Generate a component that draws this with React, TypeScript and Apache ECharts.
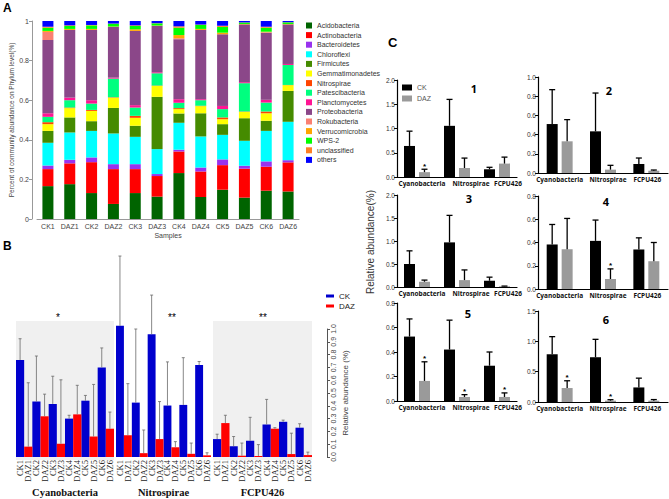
import React, { useEffect, useRef } from 'react';
import * as echarts from 'echarts';

// ---------- Panel A : phylum composition ----------
const samples = ['CK1', 'DAZ1', 'CK2', 'DAZ2', 'CK3', 'DAZ3', 'CK4', 'DAZ4', 'CK5', 'DAZ5', 'CK6', 'DAZ6'];
const phyla = ['Acidobacteria', 'Actinobacteria', 'Bacteroidetes', 'Chloroflexi', 'Firmicutes', 'Gemmatimonadetes', 'Nitrospirae', 'Patescibacteria', 'Planctomycetes', 'Proteobacteria', 'Rokubacteria', 'Verrucomicrobia', 'WPS-2', 'unclassified', 'others'];
const acidobacteria = [0.166, 0.176, 0.131, 0.076, 0.131, 0.113, 0.232, 0.111, 0.148, 0.108, 0.143, 0.139];
const actinobacteria = [0.086, 0.105, 0.156, 0.176, 0.121, 0.104, 0.109, 0.129, 0.124, 0.146, 0.121, 0.147];
const bacteroidetes = [0.018, 0.018, 0.024, 0.025, 0.025, 0.010, 0.009, 0.020, 0.029, 0.015, 0.027, 0.011];
const chloroflexi = [0.115, 0.138, 0.134, 0.155, 0.138, 0.126, 0.136, 0.157, 0.124, 0.126, 0.154, 0.194];
const firmicutes = [0.060, 0.076, 0.049, 0.129, 0.056, 0.264, 0.047, 0.117, 0.054, 0.114, 0.051, 0.156];
const gemmatimonadetes = [0.034, 0.047, 0.052, 0.052, 0.040, 0.055, 0.022, 0.036, 0.025, 0.032, 0.038, 0.029];
const nitrospirae = [0.010, 0.003, 0.005, 0.002, 0.010, 0.002, 0.005, 0.002, 0.009, 0.002, 0.009, 0.001];
const patescibacteria = [0.027, 0.037, 0.032, 0.094, 0.042, 0.062, 0.027, 0.028, 0.042, 0.143, 0.045, 0.101];
const planctomycetes = [0.018, 0.013, 0.017, 0.005, 0.012, 0.005, 0.018, 0.005, 0.016, 0.005, 0.014, 0.005];
const proteobacteria = [0.370, 0.342, 0.355, 0.256, 0.375, 0.234, 0.303, 0.350, 0.362, 0.292, 0.339, 0.200];
const rokubacteria = [0.041, 0, 0, 0, 0, 0, 0.005, 0, 0, 0, 0.002, 0];
const verrucomicrobia = [0.005, 0.005, 0.005, 0.002, 0.008, 0.002, 0.016, 0.005, 0.008, 0.002, 0.003, 0.002];
const wps2 = [0.016, 0.015, 0.018, 0.014, 0.017, 0.011, 0.037, 0.020, 0.029, 0.007, 0.020, 0.008];
const unclassified = [0.005, 0.003, 0.002, 0.001, 0.003, 0.001, 0.007, 0.002, 0.006, 0.001, 0.005, 0.001];
const others = [0.029, 0.022, 0.020, 0.013, 0.022, 0.011, 0.027, 0.018, 0.024, 0.007, 0.029, 0.006];
const phylumValues = [acidobacteria, actinobacteria, bacteroidetes, chloroflexi, firmicutes, gemmatimonadetes, nitrospirae, patescibacteria, planctomycetes, proteobacteria, rokubacteria, verrucomicrobia, wps2, unclassified, others];
const phylumColors = ['#006400', '#ff0000', '#9932ee', '#00ffff', '#458b00', '#ffff00', '#ff4500', '#00ff7f', '#ff1493', '#8b4789', '#fa8072', '#ffa500', '#00ff00', '#ff7f24', '#0000ff'];

// ---------- Panel B : per-sample abundance ----------
const genera = ['Cyanobacteria', 'Nitrospirae', 'FCPU426'];
const cyanoMean = [0.758, 0.081, 0.433, 0.318, 0.415, 0.104, 0.300, 0.333, 0.440, 0.160, 0.700, 0.221];
const cyanoSd = [0.166, 0.499, 0.356, 0.173, 0.216, 0.499, 0.026, 0.227, 0.041, 0.407, 0.152, 0.130];
const nitroMean = [1.025, 0.170, 0.425, 0.030, 0.959, 0.140, 0.402, 0.076, 0.407, 0.025, 0.718, 0.013];
const nitroSd = [0.545, 0.403, 0.575, 0.181, 0.306, 0.293, 0.341, 0.044, 0.369, 0.084, 0.028, 0.020];
const fcpuMean = [0.140, 0.265, 0.084, 0.010, 0.127, 0.008, 0.254, 0.221, 0.275, 0.023, 0.229, 0.015];
const fcpuSd = [0.038, 0.061, 0.076, 0.099, 0.183, 0.089, 0.196, 0.008, 0.013, 0.163, 0.031, 0.023];
const bMeans = [cyanoMean, nitroMean, fcpuMean];
const bSds = [cyanoSd, nitroSd, fcpuSd];
const bSignif = ['*', '**', '**'];

// ---------- Panel C : group means per site ----------
const c1CK = [0.64, 1.055, 0.159];
const c1CKsd = [0.305, 0.545, 0.041];
const c1DAZ = [0.10, 0.186, 0.276];
const c1DAZsd = [0.06, 0.204, 0.134];
const c1Sig = [1, 0, 0];
const c2CK = [0.51, 0.434, 0.094];
const c2CKsd = [0.358, 0.399, 0.062];
const c2DAZ = [0.33, 0.035, 0.024];
const c2DAZsd = [0.226, 0.045, 0.007];
const c2Sig = [0, 0, 0];
const c3CK = [0.50, 0.97, 0.136];
const c3CKsd = [0.286, 0.587, 0.078];
const c3DAZ = [0.114, 0.15, 0.014];
const c3DAZsd = [0.036, 0.221, 0.006];
const c3Sig = [0, 0, 0];
const c4CK = [0.383, 0.414, 0.34];
const c4CKsd = [0.172, 0.179, 0.10];
const c4DAZ = [0.342, 0.086, 0.239];
const c4DAZsd = [0.265, 0.087, 0.161];
const c4Sig = [0, 1, 0];
const c5CK = [0.526, 0.42, 0.288];
const c5CKsd = [0.144, 0.24, 0.112];
const c5DAZ = [0.164, 0.033, 0.033];
const c5DAZsd = [0.156, 0.019, 0.033];
const c5Sig = [1, 1, 1];
const c6CK = [0.787, 0.738, 0.24];
const c6CKsd = [0.29, 0.295, 0.153];
const c6DAZ = [0.23, 0.022, 0.022];
const c6DAZsd = [0.12, 0.016, 0.018];
const c6Sig = [1, 1, 0];
const cTitles = ['1', '2', '3', '4', '5', '6'];
const cMax = [2, 1, 2, 0.8, 0.8, 1.5];
const cInterval = [0.5, 0.2, 0.5, 0.2, 0.2, 0.5];

const SANS = 'Liberation Sans, Arial, sans-serif';
const SERIF = 'Liberation Serif, Times New Roman, serif';
const CFONT = 'Open Sans, sans-serif';
const B_BLUE = '#0000cd';
const B_RED = '#ff0000';

function errRender(offset: number, color: string, lw: number, cap: number, star: boolean) {
  return (params: any, api: any) => {
    const i = api.value(0);
    const v = api.value(1);
    const sd = api.value(2);
    const sig = api.value(3);
    const p0 = api.coord([i, v]);
    const p1 = api.coord([i, v + sd]);
    const x = p0[0] + offset;
    const children: any[] = [
      { type: 'line', shape: { x1: x, y1: p0[1], x2: x, y2: p1[1] }, style: { stroke: color, lineWidth: lw } },
      { type: 'line', shape: { x1: x - cap, y1: p1[1], x2: x + cap, y2: p1[1] }, style: { stroke: color, lineWidth: lw } },
    ];
    if (star && sig) {
      children.push({ type: 'text', x, y: p1[1] - 3, style: { text: '*', align: 'center', verticalAlign: 'middle', fontSize: 8, fontWeight: 'bold', fill: '#000', fontFamily: SANS } });
    }
    return { type: 'group', children };
  };
}

// category label shifts (padding-left, px) for the small GraphPad panels
const leftShift = [10, 28, 22];
const rightShift = [0, 10, 2];

function buildOption() {
  const grids: any[] = [
    { left: 37, top: 21, width: 262, height: 198 },
    { left: 16, top: 329, width: 98, height: 131 },
    { left: 116, top: 329, width: 95, height: 131 },
    { left: 213, top: 329, width: 99, height: 131 },
    { left: 397, top: 80, width: 120, height: 97 },
    { left: 538, top: 77, width: 130, height: 96 },
    { left: 397, top: 195, width: 120, height: 92 },
    { left: 538, top: 196, width: 130, height: 93 },
    { left: 397, top: 303, width: 120, height: 98 },
    { left: 538, top: 311, width: 130, height: 91 },
  ];
  const cTitlePos = [[474, 88], [609, 90], [469, 198], [606, 201], [468, 313], [606, 319]];

  const xAxis: any[] = [
    {
      gridIndex: 0, type: 'category', data: samples,
      axisLine: { lineStyle: { color: '#999' } },
      axisTick: { alignWithLabel: true, length: 3, lineStyle: { color: '#999' } },
      axisLabel: { interval: 0, fontSize: 7, color: '#444', margin: 4, fontFamily: SANS },
      name: 'Samples', nameLocation: 'middle', nameGap: 13,
      nameTextStyle: { fontSize: 7, color: '#444', fontFamily: SANS },
    },
  ];
  const yAxis: any[] = [
    {
      gridIndex: 0, type: 'value', min: 0, max: 1, interval: 0.2, offset: 5,
      axisLine: { show: true, lineStyle: { color: '#999' } },
      axisTick: { show: true, length: 3, lineStyle: { color: '#999' } },
      splitLine: { show: false },
      axisLabel: { fontSize: 7, color: '#444', margin: 3, fontFamily: SANS },
      name: 'Percent of community abundance on Phylum level(%)', nameLocation: 'middle', nameGap: 14,
      nameTextStyle: { fontSize: 6.5, color: '#444', fontFamily: SANS },
    },
  ];
  for (let f = 0; f < 3; f++) {
    xAxis.push({
      gridIndex: 1 + f, type: 'category', data: samples,
      axisLine: { show: false }, axisTick: { show: false },
      axisLabel: { interval: 0, rotate: 90, fontSize: 8.5, color: '#222', margin: 3, fontFamily: SERIF },
      name: genera[f], nameLocation: 'middle', nameGap: 30,
      nameTextStyle: { fontFamily: SERIF, fontWeight: 'bold', fontSize: 10.5, color: '#111' },
    });
    if (f < 2) {
      yAxis.push({ gridIndex: 1 + f, type: 'value', min: 0, max: 1, show: false });
    } else {
      yAxis.push({
        gridIndex: 3, type: 'value', position: 'right', offset: 15, min: 0, max: 1, interval: 0.1,
        axisLine: { show: true, lineStyle: { color: '#555' } },
        axisTick: { show: true, length: 3, lineStyle: { color: '#555' } },
        splitLine: { show: false },
        axisLabel: { rotate: 90, fontSize: 7, color: '#444', margin: 3, fontFamily: SANS, formatter: (v: number) => v.toFixed(1) },
        name: 'Relative abundance (%)', nameLocation: 'middle', nameRotate: 90, nameGap: 14,
        nameTextStyle: { fontSize: 8, color: '#444', fontFamily: SANS },
      });
    }
  }
  for (let k = 0; k < 6; k++) {
    const shifts = k % 2 === 0 ? leftShift : rightShift;
    xAxis.push({
      gridIndex: 4 + k, type: 'category',
      data: genera.map((g, j) => ({ value: g, textStyle: { padding: [0, 0, 0, shifts[j]] } })),
      axisLine: { lineStyle: { color: '#000', width: 1.2 } }, axisTick: { show: false },
      axisLabel: { interval: 0, fontSize: 6.5, fontWeight: 'bold', color: '#111', margin: 3, fontFamily: CFONT },
    });
    yAxis.push({
      gridIndex: 4 + k, type: 'value', min: 0, max: cMax[k], interval: cInterval[k],
      axisLine: { show: true, lineStyle: { color: '#000', width: 1.2 } },
      axisTick: { show: true, length: 3, lineStyle: { color: '#000' } },
      splitLine: { show: false },
      axisLabel: { fontSize: 6.5, color: '#333', margin: 2, fontFamily: SANS, formatter: (v: number) => v.toFixed(1) },
    });
  }

  const series: any[] = [];
  for (let f = 0; f < 3; f++) {
    const m = bMeans[f];
    series.push({
      type: 'bar', name: 'CK', xAxisIndex: 1 + f, yAxisIndex: 1 + f, stack: 'b' + f, clip: false,
      barCategoryGap: '0%', itemStyle: { color: B_BLUE },
      data: m.map((v, j) => (j % 2 === 0 ? v : '-')),
    });
    series.push({
      type: 'bar', name: 'DAZ', xAxisIndex: 1 + f, yAxisIndex: 1 + f, stack: 'b' + f, clip: false,
      barCategoryGap: '0%', itemStyle: { color: B_RED },
      data: m.map((v, j) => (j % 2 === 1 ? v : '-')),
    });
    series.push({
      type: 'custom', name: 'errB' + f, xAxisIndex: 1 + f, yAxisIndex: 1 + f, z: 5,
      renderItem: errRender(0, '#6a6a6a', 0.8, 1.5, false),
      data: m.map((v, j) => [j, v, bSds[f][j], 0]),
    });
  }
  phyla.forEach((p, i) => {
    series.push({
      type: 'bar', name: p, stack: 'a', xAxisIndex: 0, yAxisIndex: 0, barWidth: 11,
      itemStyle: { color: phylumColors[i] },
      data: phylumValues[i],
    });
  });
  const cSets = [
    [c1CK, c1CKsd, c1DAZ, c1DAZsd, c1Sig],
    [c2CK, c2CKsd, c2DAZ, c2DAZsd, c2Sig],
    [c3CK, c3CKsd, c3DAZ, c3DAZsd, c3Sig],
    [c4CK, c4CKsd, c4DAZ, c4DAZsd, c4Sig],
    [c5CK, c5CKsd, c5DAZ, c5DAZsd, c5Sig],
    [c6CK, c6CKsd, c6DAZ, c6DAZsd, c6Sig],
  ];
  const bw = 11;
  const gapRatio = 0.36;
  const off = (bw * (1 + gapRatio)) / 2;
  cSets.forEach((s, k) => {
    const [ck, cksd, daz, dazsd, sig] = s;
    series.push({
      type: 'bar', name: 'CK', xAxisIndex: 4 + k, yAxisIndex: 4 + k, barWidth: bw, barGap: '36%',
      itemStyle: { color: '#000' }, data: ck,
    });
    series.push({
      type: 'bar', name: 'DAZ', xAxisIndex: 4 + k, yAxisIndex: 4 + k, barWidth: bw, barGap: '36%',
      itemStyle: { color: '#9a9a9a' }, data: daz,
    });
    series.push({
      type: 'custom', name: 'errCK' + k, xAxisIndex: 4 + k, yAxisIndex: 4 + k, z: 5,
      renderItem: errRender(-off, '#000', 1.3, 3, false),
      data: ck.map((v, j) => [j, v, cksd[j], 0]),
    });
    series.push({
      type: 'custom', name: 'errDAZ' + k, xAxisIndex: 4 + k, yAxisIndex: 4 + k, z: 5,
      renderItem: errRender(off, '#000', 1.3, 3, true),
      data: daz.map((v, j) => [j, v, dazsd[j], sig[j]]),
    });
  });

  const starPos = [58, 172, 263];
  const graphic: any[] = [
    { type: 'rect', z: -1, silent: true, shape: { x: 16, y: 321, width: 98, height: 139 }, style: { fill: '#f0f0f0' } },
    { type: 'rect', z: -1, silent: true, shape: { x: 213, y: 321, width: 99, height: 139 }, style: { fill: '#f0f0f0' } },
    { type: 'text', x: 3, y: 2, style: { text: 'A', fontSize: 12, fontWeight: 'bold', fill: '#000', fontFamily: SANS } },
    { type: 'text', x: 3, y: 240, style: { text: 'B', fontSize: 12, fontWeight: 'bold', fill: '#000', fontFamily: SANS } },
    { type: 'text', x: 388, y: 36, style: { text: 'C', fontSize: 13, fontWeight: 'bold', fill: '#000', fontFamily: SANS } },
    { type: 'text', x: 370, y: 242, rotation: Math.PI / 2, style: { text: 'Relative abundance(%)', align: 'center', verticalAlign: 'middle', fontSize: 10, fill: '#333', fontFamily: SANS } },
  ];
  bSignif.forEach((t, f) => {
    graphic.push({ type: 'text', x: starPos[f], y: 317, style: { text: t, align: 'center', verticalAlign: 'middle', fontSize: 10, fill: '#000', fontFamily: SANS } });
  });
  cTitles.forEach((t, k) => {
    graphic.push({ type: 'text', x: cTitlePos[k][0], y: cTitlePos[k][1], style: { text: t, align: 'center', verticalAlign: 'middle', fontSize: 11, fontWeight: 'bold', fill: '#000', fontFamily: CFONT } });
  });

  return {
    animation: false,
    backgroundColor: '#fff',
    grid: grids,
    xAxis,
    yAxis,
    series,
    graphic,
    legend: [
      {
        left: 306, top: 22, orient: 'vertical', data: phyla, itemWidth: 6, itemHeight: 6, itemGap: 2.6,
        icon: 'rect', padding: 0, selectedMode: false,
        textStyle: { fontSize: 7, lineHeight: 6, color: '#333', fontFamily: SANS },
      },
      {
        left: 326, top: 292, orient: 'vertical', itemWidth: 8, itemHeight: 3, itemGap: 2, icon: 'rect',
        padding: 0, selectedMode: false,
        data: [{ name: 'CK', itemStyle: { color: B_BLUE } }, { name: 'DAZ', itemStyle: { color: B_RED } }],
        textStyle: { fontSize: 8, lineHeight: 5, color: '#222', fontFamily: SANS },
      },
      {
        left: 402, top: 84, orient: 'vertical', itemWidth: 10, itemHeight: 6, itemGap: 4, icon: 'rect',
        padding: 0, selectedMode: false,
        data: [{ name: 'CK', itemStyle: { color: '#000' } }, { name: 'DAZ', itemStyle: { color: '#9a9a9a' } }],
        textStyle: { fontSize: 7, lineHeight: 6, color: '#555', fontFamily: SANS },
      },
    ],
  };
}

export default function App() {
  const ref = useRef<HTMLDivElement>(null);
  useEffect(() => {
    const chart = echarts.init(ref.current as HTMLDivElement, null, { renderer: 'svg' });
    chart.setOption(buildOption() as any);
    return () => chart.dispose();
  }, []);
  return (
    <div
      ref={ref}
      style={{ position: 'fixed', left: 0, top: 0, width: 669, height: 499, background: '#fff' }}
    />
  );
}
